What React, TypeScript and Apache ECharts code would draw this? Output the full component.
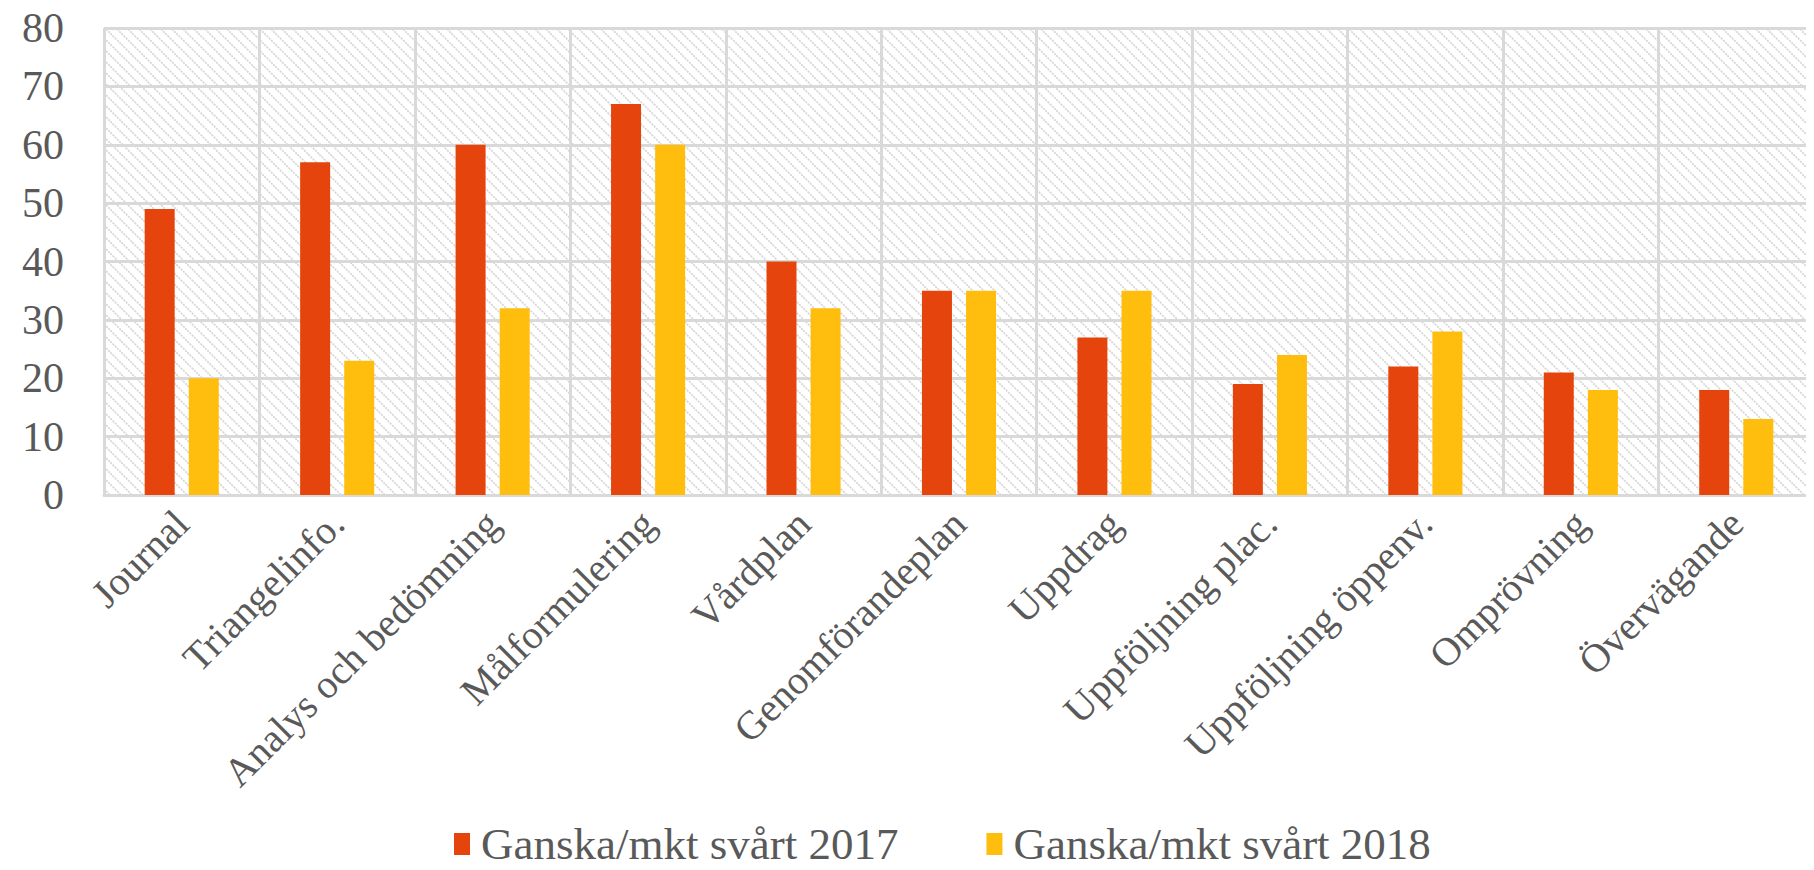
import React, { useEffect, useRef } from "react";
import * as echarts from "echarts";

const categories = [
  "Journal",
  "Triangelinfo.",
  "Analys och bedömning",
  "Målformulering",
  "Vårdplan",
  "Genomförandeplan",
  "Uppdrag",
  "Uppföljning plac.",
  "Uppföljning öppenv.",
  "Omprövning",
  "Övervägande",
];
const series2017 = [49, 57, 60, 67, 40, 35, 27, 19, 22, 21, 18];
const series2018 = [20, 23, 32, 60, 32, 35, 35, 24, 28, 18, 13];
const seriesNames = ["Ganska/mkt svårt 2017", "Ganska/mkt svårt 2018"];

function makePattern(): HTMLCanvasElement {
  const s = 11;
  const c = document.createElement("canvas");
  c.width = s;
  c.height = s;
  const ctx = c.getContext("2d")!;
  ctx.fillStyle = "#ffffff";
  ctx.fillRect(0, 0, s, s);
  ctx.strokeStyle = "#d6d6d6";
  ctx.lineWidth = 1.6;
  ctx.setLineDash([2.2, 1]);
  ctx.beginPath();
  ctx.moveTo(-2, -2);
  ctx.lineTo(s + 2, s + 2);
  ctx.moveTo(-2, s - 2);
  ctx.lineTo(2, s + 2);
  ctx.moveTo(s - 2, -2);
  ctx.lineTo(s + 2, 2);
  ctx.stroke();
  return c;
}

export default function App() {
  const ref = useRef<HTMLDivElement>(null);
  useEffect(() => {
    if (!ref.current) return;
    const chart = echarts.init(ref.current, null, { renderer: "svg" });
    const font = "'Liberation Serif', 'Times New Roman', serif";
    const gridColor = "#d9d9d9";
    chart.setOption({
      animation: false,
      backgroundColor: "#ffffff",
      grid: {
        left: 104,
        top: 28,
        width: 1727,
        bottom: 375,
        show: true,
        borderWidth: 0,
        backgroundColor: { image: makePattern(), repeat: "repeat" },
      },
      legend: {
        left: 449,
        top: 816,
        itemWidth: 16,
        itemHeight: 22,
        itemGap: 88,
        icon: "rect",
        textStyle: {
          fontFamily: font,
          fontSize: 45,
          lineHeight: 46,
          color: "#595959",
          padding: [0, 0, 0, 6],
        },
        data: seriesNames,
      },
      xAxis: {
        type: "category",
        data: categories,
        axisLine: { lineStyle: { color: gridColor, width: 3 } },
        axisTick: { show: false },
        splitLine: { show: true, lineStyle: { color: gridColor, width: 3 } },
        axisLabel: {
          rotate: 45,
          interval: 0,
          margin: 22,
          fontFamily: font,
          fontSize: 40,
          color: "#595959",
        },
      },
      yAxis: {
        type: "value",
        min: 0,
        max: 80,
        interval: 10,
        axisLine: { show: false },
        axisTick: { show: false },
        splitLine: { lineStyle: { color: gridColor, width: 3 } },
        axisLabel: {
          margin: 40,
          fontFamily: font,
          fontSize: 42,
          color: "#595959",
        },
      },
      series: [
        {
          name: seriesNames[0],
          type: "bar",
          data: series2017,
          barWidth: 30,
          barGap: "47%",
          itemStyle: { color: "#E5450C" },
        },
        {
          name: seriesNames[1],
          type: "bar",
          data: series2018,
          barWidth: 30,
          itemStyle: { color: "#FFBE0D" },
        },
      ],
    });
    return () => chart.dispose();
  }, []);
  return <div ref={ref} style={{ width: 1814, height: 870, margin: -8 }} />;
}
